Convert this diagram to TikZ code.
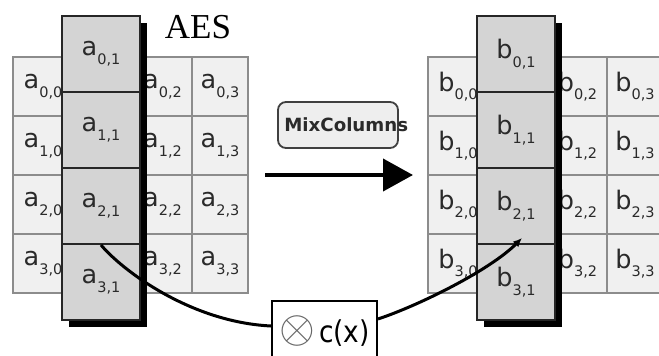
\documentclass[tikz,border=0pt]{standalone}
\usepackage{fontspec}
\newfontfamily\dejavu{DejaVu Sans}
\newfontfamily\timesfont{Liberation Serif}
\usetikzlibrary{arrows.meta,calc}

\definecolor{cellfill}{HTML}{F0F0F0}
\definecolor{cellrule}{HTML}{8C8C8C}
\definecolor{colfill}{HTML}{D4D4D4}
\definecolor{ink}{HTML}{2A2A2A}
\definecolor{boxfill}{HTML}{EEEEEE}

% state entry: letter with a two-index subscript
\newcommand\stentry[3]{#1\raisebox{-0.34em}{\fontsize{14.5}{14.5}\selectfont#2,#3}}

\begin{document}
\begin{tikzpicture}[x=1pt,y=-1pt,
  cellbox/.style={draw=cellrule, line width=1.4pt, fill=cellfill, inner sep=0pt,
    text=ink, font=\dejavu\fontsize{25.5}{25.5}\selectfont},
  colbox/.style={draw=black!85, line width=2pt, fill=colfill, inner sep=0pt,
    minimum width=78pt, minimum height=76pt, text=ink,
    font=\dejavu\fontsize{25.5}{25.5}\selectfont},
  shadowbox/.style={fill=black},
  opbox/.style={draw=black!75, line width=1.8pt, fill=boxfill, rounded corners=8pt,
    minimum width=120pt, minimum height=46pt},
  oplabel/.style={inner sep=0pt, text=ink, font=\dejavu\bfseries\fontsize{18.2}{18.2}\selectfont},
  polybox/.style={draw=black, line width=2pt, fill=white, inner sep=0pt,
    minimum width=105pt, minimum height=70pt, font=\dejavu},
  flow/.style={line width=3pt, draw=black},
]
\useasboundingbox (0,0) rectangle (659,356);
\clip (0,0) rectangle (659,356);
\fill[white] (0,0) rectangle (659,356);

% the two 4x4 state grids
\foreach \g/\dx in {a/0,b/415}{
  \foreach \r/\yt/\yb in {0/57/116,1/116/175,2/175/234,3/234/293}{
    \foreach \c/\xl/\xr in {0/13/73,1/73/133,2/133/192,3/192/248}{
      \node[cellbox, minimum width={(\xr-\xl)*1pt}, minimum height={(\yb-\yt)*1pt}]
        (\g\r\c) at ({(\xl+\xr)/2+\dx},{(\yt+\yb)/2}) {\stentry{\g}{\r}{\c}};
    }
  }
}

% the lifted column 1 of each state, with its drop shadow
\foreach \g/\dx in {a/0,b/415}{
  \fill[shadowbox] ({69+\dx},23) rectangle ({147+\dx},327);
  \foreach \r/\yt/\yb in {0/16/92,1/92/168,2/168/244,3/244/320}{
    \node[colbox] (\g col\r) at ({101+\dx},{(\yt+\yb)/2}) {\stentry{\g}{\r}{1}};
  }
}

% title
\node[font=\timesfont\fontsize{35}{35}\selectfont] (title) at (198,27) {AES};

% MixColumns operation
\node[opbox] (mix) at (338,125) {};
\node[oplabel, anchor=west] (mixlbl) at ([xshift=7pt]mix.west) {MixColumns};
\coordinate (arrtail) at (265,175);
\coordinate (arrhead) at (413,175);
\draw[line width=4pt, -{Triangle[length=30pt,width=32pt]}] (arrtail) -- (arrhead);

% multiplication by c(x)
\node[polybox, anchor=north] (cx) at (324.5,300)
  {\raisebox{-6pt}[0pt][0pt]{{\color{black!60}\scalebox{4.6}{$\otimes$}}\hspace{4pt}\scalebox{0.88}[1]{\fontsize{30}{30}\selectfont c(x)}}};

\draw[flow] (acol2.south) .. controls (122,270) and (190,322) .. ([yshift=10pt]cx.west);
\draw[flow, -{Latex[length=9pt,width=8pt]}] ([yshift=17pt]cx.east)
  .. controls (420,305) and (490,270) .. ($(bcol2.south)+(6,-7)$);
\end{tikzpicture}
\end{document}
